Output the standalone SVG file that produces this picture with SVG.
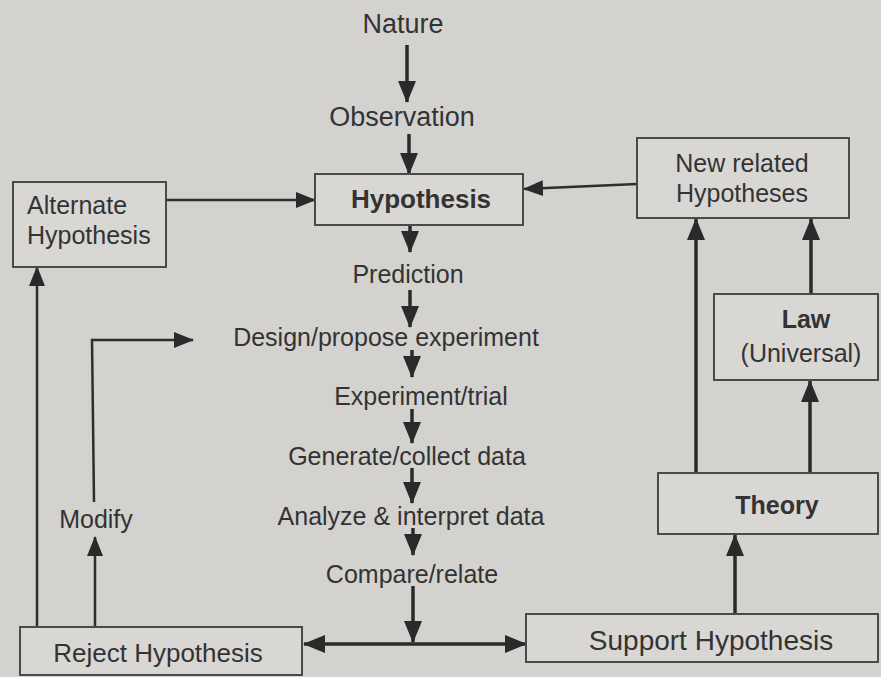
<svg xmlns="http://www.w3.org/2000/svg" width="881" height="677" viewBox="0 0 881 677">
  <defs>
    <marker id="ah" markerUnits="userSpaceOnUse" markerWidth="22" markerHeight="18" refX="21" refY="9" orient="auto-start-reverse">
      <path d="M0,0 L22,9 L0,18 z" fill="#2a2a2a"/>
    </marker>
    <marker id="ahs" markerUnits="userSpaceOnUse" markerWidth="20" markerHeight="16" refX="19" refY="8" orient="auto-start-reverse">
      <path d="M0,0 L20,8 L0,16 z" fill="#2a2a2a"/>
    </marker>
    <style>
      text { font-family: "Liberation Sans", Arial, sans-serif; fill: #333; font-size: 25px; }
      .b { font-weight: bold; }
      .c { text-anchor: middle; }
      .box { fill: #d9d7d4; stroke: #4a4a4a; stroke-width: 2; }
      .main { stroke: #2a2a2a; stroke-width: 3.5; fill: none; marker-end: url(#ah); }
      .thin { stroke: #2e2e2e; stroke-width: 2.5; fill: none; marker-end: url(#ahs); }
    </style>
  </defs>
  <rect x="0" y="0" width="881" height="677" fill="#d4d2cf"/>

  <g id="connectors">
    <line class="main" x1="407" y1="45" x2="407" y2="102"/>
    <line class="main" x1="409" y1="134" x2="409" y2="174"/>
    <line class="main" x1="410" y1="226" x2="410" y2="252"/>
    <line class="main" x1="410" y1="290" x2="410" y2="327"/>
    <line class="main" x1="412" y1="350" x2="412" y2="377"/>
    <line class="main" x1="412" y1="409" x2="412" y2="443"/>
    <line class="main" x1="412" y1="468" x2="412" y2="503"/>
    <line class="main" x1="413" y1="528" x2="413" y2="555"/>
    <line class="main" x1="413" y1="586" x2="413" y2="642"/>
    <line class="main" x1="304" y1="644" x2="526" y2="644" marker-start="url(#ah)"/>
    <line class="thin" x1="166" y1="200" x2="315" y2="200"/>
    <line class="thin" x1="637" y1="184" x2="524" y2="189"/>
    <line class="thin" x1="37" y1="627" x2="37" y2="267"/>
    <line class="thin" x1="95" y1="627" x2="95" y2="537"/>
    <polyline class="thin" points="94,502 92,340 193,340"/>
    <line class="main" x1="735" y1="614" x2="735" y2="535"/>
    <line class="main" x1="696" y1="473" x2="696" y2="219"/>
    <line class="main" x1="810" y1="473" x2="810" y2="381"/>
    <line class="main" x1="811" y1="294" x2="811" y2="219"/>
  </g>

  <g id="nature"><text class="c" x="403" y="33" style="font-size:27px">Nature</text></g>
  <g id="observation"><text class="c" x="402" y="126" style="font-size:27px">Observation</text></g>
  <g id="hypothesis">
    <rect class="box" x="315" y="174" width="208" height="51"/>
    <text class="c b" x="421" y="208" style="font-size:26px">Hypothesis</text>
  </g>
  <g id="alternate">
    <rect class="box" x="13" y="182" width="153" height="85"/>
    <text x="27" y="214">Alternate</text>
    <text x="27" y="244">Hypothesis</text>
  </g>
  <g id="newrelated">
    <rect class="box" x="637" y="138" width="212" height="80"/>
    <text class="c" x="742" y="172">New related</text>
    <text class="c" x="742" y="202">Hypotheses</text>
  </g>
  <g id="prediction"><text class="c" x="408" y="283">Prediction</text></g>
  <g id="design"><text class="c" x="386" y="346">Design/propose experiment</text></g>
  <g id="experiment"><text class="c" x="421" y="405">Experiment/trial</text></g>
  <g id="generate"><text class="c" x="407" y="465">Generate/collect data</text></g>
  <g id="analyze"><text class="c" x="411" y="525">Analyze &amp; interpret data</text></g>
  <g id="compare"><text class="c" x="412" y="583">Compare/relate</text></g>
  <g id="modify"><text class="c" x="96" y="528">Modify</text></g>
  <g id="law">
    <rect class="box" x="714" y="294" width="164" height="86"/>
    <text class="c b" x="806" y="328">Law</text>
    <text class="c" x="801" y="362">(Universal)</text>
  </g>
  <g id="theory">
    <rect class="box" x="658" y="473" width="220" height="61"/>
    <text class="c b" x="777" y="514">Theory</text>
  </g>
  <g id="support">
    <rect class="box" x="526" y="614" width="352" height="48"/>
    <text class="c" x="711" y="650" style="font-size:28px">Support Hypothesis</text>
  </g>
  <g id="reject">
    <rect class="box" x="20" y="627" width="282" height="48"/>
    <text class="c" x="158" y="662" style="font-size:26px">Reject Hypothesis</text>
  </g>
</svg>
